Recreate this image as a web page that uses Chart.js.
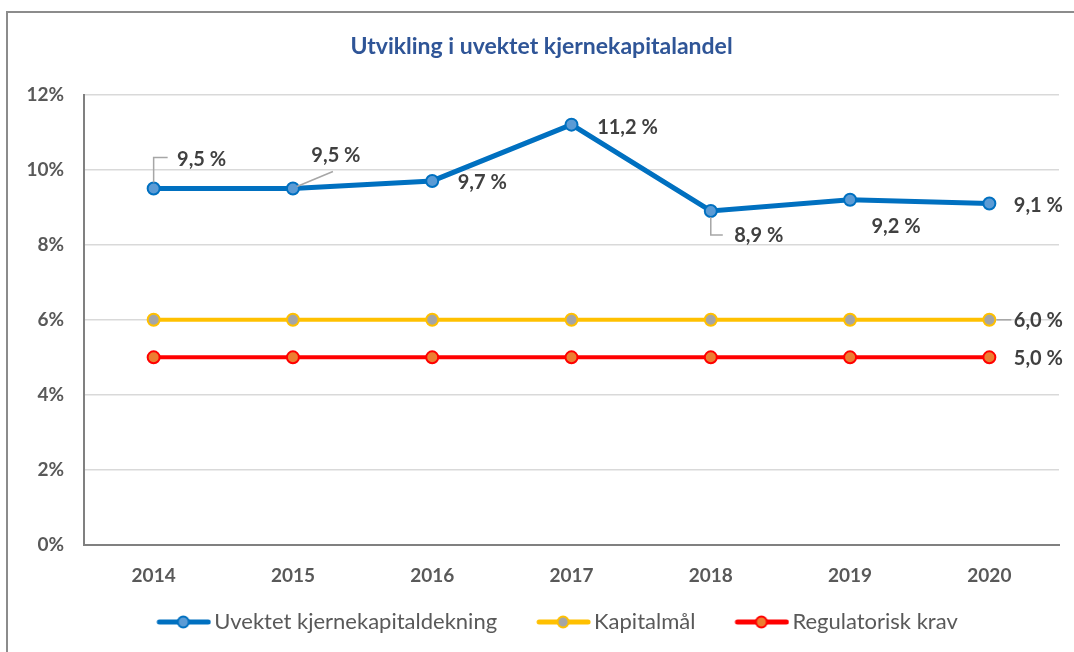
<!DOCTYPE html>
<html>
<head>
<meta charset="utf-8">
<script src="https://cdn.jsdelivr.net/npm/chart.js@4"></script>
<style>
  html, body { margin: 0; padding: 0; background: #fff; }
  #wrap { position: relative; width: 1074px; height: 652px; overflow: hidden; }
  #frame { position: absolute; left: 6px; top: 11px; width: 1200px; height: 800px;
           border-left: 2px solid #8c8c8c; border-top: 2px solid #8c8c8c; }
  canvas { position: absolute; left: 0; top: 0; }
</style>
</head>
<body>
<div id="wrap">
  <div id="frame"></div>
  <canvas id="chart" width="1074" height="652"></canvas>
</div>
<script>
// years on the x axis
var years = ['2014', '2015', '2016', '2017', '2018', '2019', '2020'];

// percent values
var uvektet = [9.5, 9.5, 9.7, 11.2, 8.9, 9.2, 9.1];
var kapitalmal = [6.0, 6.0, 6.0, 6.0, 6.0, 6.0, 6.0];
var regulatorisk = [5.0, 5.0, 5.0, 5.0, 5.0, 5.0, 5.0];

var yTicks = [0, 2, 4, 6, 8, 10, 12];

var FONT = 'Lato, "Open Sans", sans-serif';

function fmtPct(v) {
    return v.toFixed(1).replace('.', ',') + ' %';
}

// legend symbol: line + marker, drawn in the right part of a wider image
// so the text sits right after it and the gap goes before it
function legendSymbol(line, fill) {
    var c = document.createElement('canvas');
    c.width = 94;
    c.height = 16;
    var g = c.getContext('2d');
    g.strokeStyle = line;
    g.lineWidth = 5;
    g.lineCap = 'round';
    g.beginPath();
    g.moveTo(42, 8);
    g.lineTo(91, 8);
    g.stroke();
    g.beginPath();
    g.arc(66, 8, 5.5, 0, Math.PI * 2);
    g.fillStyle = fill;
    g.fill();
    g.lineWidth = 2;
    g.stroke();
    return c;
}

// draws the value labels (with leader lines) next to chosen points
var valueLabels = {
    id: 'valueLabels',
    afterDatasetsDraw: function (chart, args, opts) {
        var ctx = chart.ctx;
        ctx.save();
        ctx.font = 'bold 20px ' + FONT;
        ctx.textAlign = 'center';
        ctx.textBaseline = 'middle';
        chart.data.datasets.forEach(function (ds, di) {
            var place = opts.placement[di] || [];
            var meta = chart.getDatasetMeta(di);
            meta.data.forEach(function (pt, i) {
                var p = place[i];
                if (!p) return;
                if (p.leader) {
                    ctx.strokeStyle = '#a6a6a6';
                    ctx.lineWidth = 1.5;
                    ctx.beginPath();
                    p.leader.forEach(function (q, k) {
                        if (k === 0) ctx.moveTo(pt.x + q[0], pt.y + q[1]);
                        else ctx.lineTo(pt.x + q[0], pt.y + q[1]);
                    });
                    ctx.stroke();
                }
                ctx.fillStyle = '#404040';
                ctx.fillText(fmtPct(ds.data[i]), pt.x + p.dx, pt.y + p.dy);
            });
        });
        ctx.restore();
    }
};

var ctx = document.getElementById('chart').getContext('2d');
new Chart(ctx, {
    type: 'line',
    data: {
        labels: years,
        datasets: [{
            label: 'Uvektet kjernekapitaldekning',
            data: uvektet,
            borderColor: '#0070c0',
            backgroundColor: '#5b9bd5',
            borderWidth: 5,
            pointRadius: 6,
            pointBorderWidth: 2,
            pointBackgroundColor: '#5b9bd5',
            pointBorderColor: '#0070c0',
            symbol: legendSymbol('#0070c0', '#5b9bd5')
        }, {
            label: 'Kapitalmål',
            data: kapitalmal,
            borderColor: '#ffc000',
            backgroundColor: '#a5a5a5',
            borderWidth: 4,
            pointRadius: 6,
            pointBorderWidth: 2,
            pointBackgroundColor: '#a5a5a5',
            pointBorderColor: '#ffc000',
            symbol: legendSymbol('#ffc000', '#a5a5a5')
        }, {
            label: 'Regulatorisk krav',
            data: regulatorisk,
            borderColor: '#ff0000',
            backgroundColor: '#ed7d31',
            borderWidth: 4,
            pointRadius: 6,
            pointBorderWidth: 2,
            pointBackgroundColor: '#ed7d31',
            pointBorderColor: '#ff0000',
            symbol: legendSymbol('#ff0000', '#ed7d31')
        }]
    },
    options: {
        responsive: false,
        animation: false,
        layout: { padding: { left: 24, right: 15, top: 0, bottom: 9 } },
        scales: {
            x: {
                offset: true,
                grid: { display: false, drawTicks: false },
                border: { color: '#808080', width: 2 },
                ticks: {
                    color: '#595959',
                    padding: 19,
                    font: { family: FONT, size: 19, weight: 'bold' }
                },
                afterFit: function (s) { s.height = 58; }
            },
            y: {
                min: 0,
                max: 12,
                afterBuildTicks: function (s) {
                    s.ticks = yTicks.map(function (v) { return { value: v }; });
                },
                grid: { color: '#d9d9d9', lineWidth: 1.5, drawTicks: false },
                border: { color: '#808080', width: 2 },
                ticks: {
                    color: '#595959',
                    padding: 20,
                    font: { family: FONT, size: 19, weight: 'bold' },
                    callback: function (v) { return v + '%'; }
                },
                afterFit: function (s) { s.width = 60; }
            }
        },
        plugins: {
            title: {
                display: true,
                text: 'Utvikling i uvektet kjernekapitalandel',
                color: '#2f5597',
                font: { family: FONT, size: 23, weight: 'bold' },
                padding: { top: 33, bottom: 34 }
            },
            legend: {
                position: 'bottom',
                labels: {
                    usePointStyle: true,
                    pointStyleWidth: 78,
                    padding: 8,
                    color: '#595959',
                    font: { family: FONT, size: 22 },
                    generateLabels: function (chart) {
                        return chart.data.datasets.map(function (ds, i) {
                            return {
                                text: ds.label,
                                pointStyle: ds.symbol,
                                fontColor: '#595959',
                                lineWidth: 0,
                                strokeStyle: 'transparent',
                                fillStyle: 'transparent',
                                datasetIndex: i
                            };
                        });
                    }
                }
            },
            tooltip: { enabled: false },
            valueLabels: {
                placement: [
                    [
                        { dx: 48, dy: -29, leader: [[0, -6], [0, -31], [14, -31]] },
                        { dx: 43, dy: -33, leader: [[4, -2], [40, -17]] },
                        { dx: 50, dy: 2 },
                        { dx: 56, dy: 3 },
                        { dx: 48, dy: 25, leader: [[0, 6], [0, 24], [12, 24]] },
                        { dx: 46, dy: 27 },
                        { dx: 49, dy: 2 }
                    ],
                    [null, null, null, null, null, null,
                        { dx: 49, dy: 1, leader: [[7, 0], [22, 0]] }],
                    [null, null, null, null, null, null,
                        { dx: 49, dy: 1 }]
                ]
            }
        }
    },
    plugins: [valueLabels]
});
</script>
</body>
</html>
